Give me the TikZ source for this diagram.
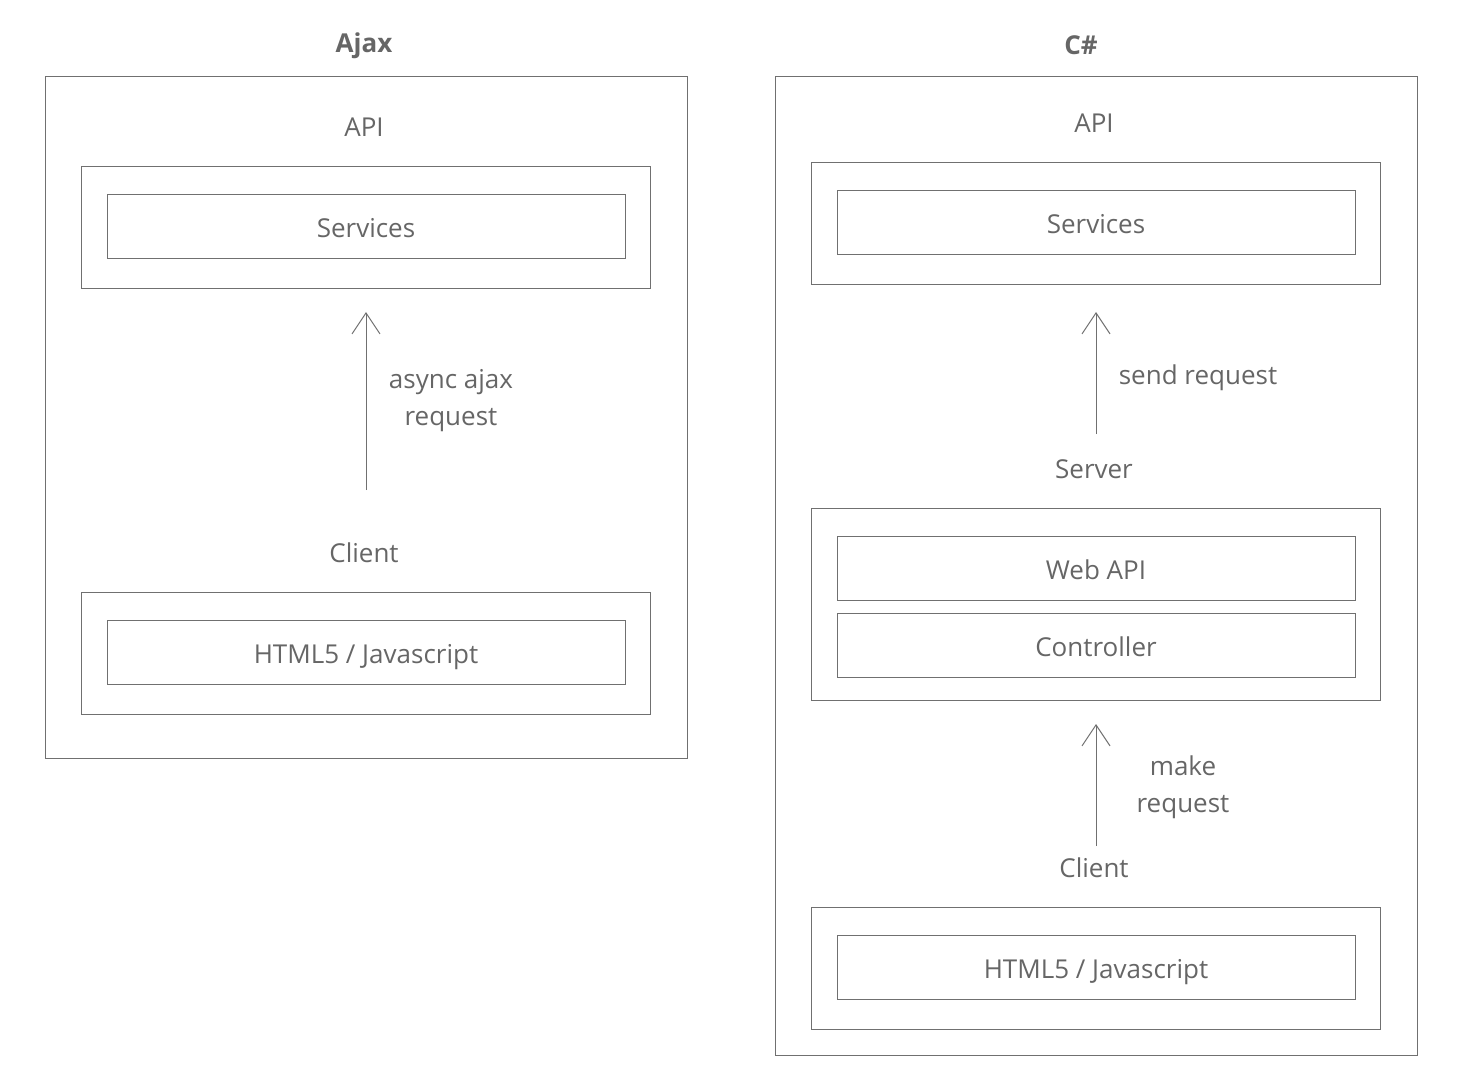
\documentclass[tikz,border=0pt]{standalone}
\usepackage{fontspec}
\setmainfont{Open Sans}
\usetikzlibrary{arrows.meta}
\definecolor{ln}{HTML}{707070}
\definecolor{tx}{HTML}{666666}
\tikzset{
  box/.style={draw=ln, line width=1pt},
  lbl/.style={text=tx, font=\fontsize{26}{37}\selectfont, align=center, inner sep=0pt},
  inbox/.style={box, lbl, minimum width=518pt, minimum height=64pt, text height=25pt, text depth=2pt},
  ttl/.style={text=tx, font=\fontsize{26}{37}\selectfont\bfseries, inner sep=0pt},
  arr/.style={draw=ln, line width=1pt, -{Straight Barb[length=21pt,width=28pt,line width=1pt]}}
}
\begin{document}
\begin{tikzpicture}[x=1pt,y=-1pt]
\useasboundingbox (0,0) rectangle (1471,1080);
% Left
\node[ttl] (t1) at (364,46) {Ajax};
\draw[box] (45,76) rectangle (687,758);
\node[lbl] (api1) at (364,127) {API};
\draw[box] (81,166) rectangle (650,288);
\node[inbox] (svc1) at (366,226) {Services};
\coordinate (a1s) at (366,490);
\coordinate (a1e) at (366,312);
\draw[arr] (a1s) -- (a1e);
\node[lbl] (l1) at (451,401) {async ajax\\request};
\node[lbl] (cl1) at (364,553) {Client};
\draw[box] (81,592) rectangle (650,714);
\node[inbox] (html1) at (366,652) {HTML5 / Javascript};
% Right
\node[ttl] (t2) at (1081,45) {C\#};
\draw[box] (775,76) rectangle (1417,1055);
\node[lbl] (api2) at (1094,123) {API};
\draw[box] (811,162) rectangle (1380,284);
\node[inbox] (svc2) at (1096,222) {Services};
\coordinate (a2s) at (1096,434);
\coordinate (a2e) at (1096,312);
\draw[arr] (a2s) -- (a2e);
\node[lbl] (l2) at (1198,378) {send request};
\node[lbl] (srv) at (1094,469) {Server};
\draw[box] (811,508) rectangle (1380,700);
\node[inbox] (web) at (1096,568) {Web API};
\node[inbox] (ctl) at (1096,645) {Controller};
\coordinate (a3s) at (1096,846);
\coordinate (a3e) at (1096,724);
\draw[arr] (a3s) -- (a3e);
\node[lbl] (l3) at (1183,787) {make\\request};
\node[lbl] (cl2) at (1094,868) {Client};
\draw[box] (811,907) rectangle (1380,1029);
\node[inbox] (html2) at (1096,967) {HTML5 / Javascript};
\end{tikzpicture}
\end{document}
